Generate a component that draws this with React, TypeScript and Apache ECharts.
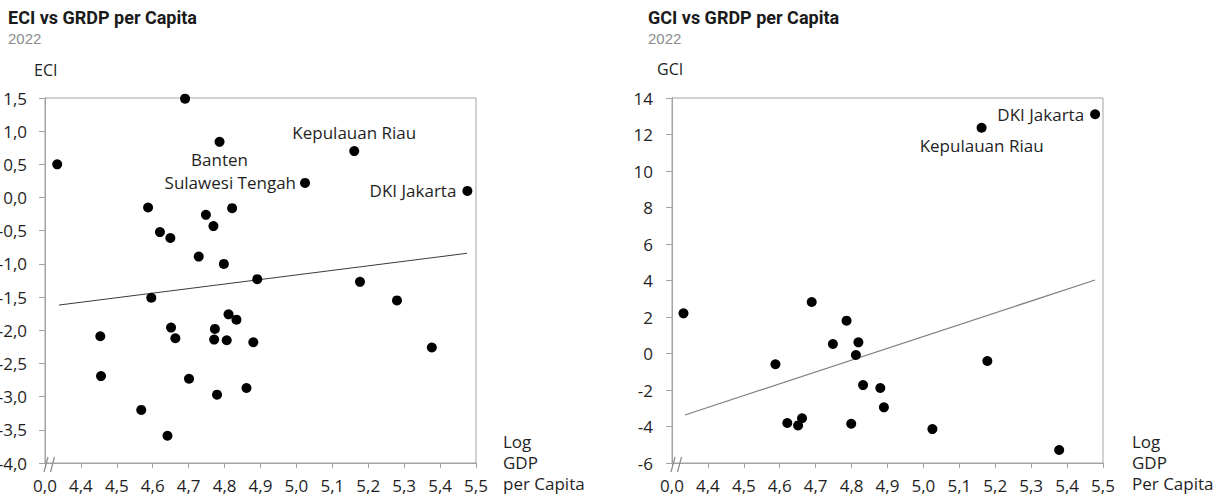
import React, { useEffect, useRef } from "react";
import * as echarts from "echarts";

// ---- Data ----
const xTickMin = 4.3; // shown as "0,0" (broken axis)
const xTickMax = 5.5;

const eciX = [4.334, 4.69, 4.786, 4.587, 4.62, 4.649, 4.748, 4.769, 4.821, 4.728, 4.798, 4.891, 4.596, 4.454, 4.456, 4.651, 4.663, 4.568, 4.641, 4.701, 4.773, 4.771, 4.779, 4.811, 4.833, 4.806, 4.88, 4.861, 5.161, 5.024, 5.476, 5.177, 5.28, 5.377];
const eciY = [0.5, 1.49, 0.84, -0.15, -0.52, -0.61, -0.26, -0.43, -0.16, -0.89, -1.0, -1.23, -1.51, -2.09, -2.69, -1.96, -2.12, -3.2, -3.59, -2.73, -1.98, -2.14, -2.97, -1.76, -1.84, -2.15, -2.18, -2.87, 0.7, 0.22, 0.1, -1.27, -1.55, -2.26];
const eciLabel = ["", "", "Banten", "", "", "", "", "", "", "", "", "", "", "", "", "", "", "", "", "", "", "", "", "", "", "", "", "", "Kepulauan Riau", "Sulawesi Tengah", "DKI Jakarta", "", "", ""];
const eciTrend = [[4.339, -1.62], [5.475, -0.84]];

const gciX = [4.332, 4.689, 4.786, 4.748, 4.819, 4.812, 4.588, 4.832, 4.88, 4.89, 4.621, 4.651, 4.662, 4.799, 5.478, 5.162, 5.178, 5.025, 5.378];
const gciY = [2.2, 2.82, 1.8, 0.52, 0.61, -0.08, -0.59, -1.73, -1.89, -2.95, -3.81, -3.94, -3.55, -3.85, 13.11, 12.37, -0.41, -4.14, -5.29];
const gciLabel = ["", "", "", "", "", "", "", "", "", "", "", "", "", "", "DKI Jakarta", "Kepulauan Riau", "", "", ""];
const gciTrend = [[4.336, -3.37], [5.478, 4.03]];

const eciLabelPos: Record<string, [string, number]> = {
  "Banten": ["bottom", 4],
  "Kepulauan Riau": ["top", 5],
  "Sulawesi Tengah": ["left", 4],
  "DKI Jakarta": ["left", 6],
};
const gciLabelPos: Record<string, [string, number]> = {
  "DKI Jakarta": ["left", 6],
  "Kepulauan Riau": ["bottom", 4],
};

const FONT = "'Open Sans', sans-serif";
const AXIS_GRAY = "#a3a3a3";
const TEXT = "#1f1f1f";

function fmtX(v: number) {
  if (v < xTickMin + 0.05) return "0,0";
  return v.toFixed(1).replace(".", ",");
}

function buildPoints(xs: number[], ys: number[], labels: string[], pos: Record<string, [string, number]>) {
  return xs.map((x, i) => {
    const name = labels[i];
    const item: any = { value: [x, ys[i]], name };
    if (name) {
      const p = pos[name];
      item.label = {
        show: true,
        formatter: name,
        position: p[0],
        distance: p[1],
        fontFamily: FONT,
        fontSize: 17,
        color: TEXT,
        opacity: 1,
      };
    }
    return item;
  });
}

export default function App() {
  const ref = useRef<HTMLDivElement>(null);

  useEffect(() => {
    if (!ref.current) return;
    const chart = echarts.init(ref.current, undefined, { renderer: "svg" });

    const xAxisBase = (gridIndex: number) => ({
      type: "value",
      gridIndex,
      min: xTickMin,
      max: xTickMax,
      interval: 0.1,
      axisLine: { show: true, onZero: false, lineStyle: { color: AXIS_GRAY, width: 1 } },
      axisTick: { show: true, length: 5, lineStyle: { color: AXIS_GRAY } },
      splitLine: { show: false },
      axisLabel: {
        formatter: fmtX,
        fontFamily: FONT,
        fontSize: 17,
        color: TEXT,
        margin: 14,
        showMinLabel: true,
        showMaxLabel: true,
      },
    });

    const yAxisBase = (gridIndex: number, min: number, max: number, interval: number, fmt: (v: number) => string, margin: number) => ({
      type: "value",
      gridIndex,
      min,
      max,
      interval,
      axisLine: { show: true, onZero: false, lineStyle: { color: AXIS_GRAY, width: 1 } },
      axisTick: { show: true, length: 6, lineStyle: { color: AXIS_GRAY } },
      splitLine: { show: false },
      axisLabel: {
        formatter: fmt,
        fontFamily: FONT,
        fontSize: 17,
        color: TEXT,
        margin,
      },
    });

    const breakMark = (x: number) => [
      {
        type: "line",
        shape: { x1: x, y1: 472, x2: x + 4, y2: 457 },
        style: { stroke: "#8a8a8a", lineWidth: 1.2 },
        z: 100,
      },
      {
        type: "line",
        shape: { x1: x + 6.5, y1: 472, x2: x + 10.5, y2: 457 },
        style: { stroke: "#8a8a8a", lineWidth: 1.2 },
        z: 100,
      },
    ];

    const titleStyle = { fontFamily: "'Liberation Sans Narrow', 'Roboto', sans-serif", fontWeight: "bold", fontSize: 18, color: "#1a1a1a", lineHeight: 20 };
    const subStyle = { fontFamily: "'Liberation Sans', sans-serif", fontSize: 15, color: "#8c8c8c", lineHeight: 16 };

    const option: any = {
      animation: false,
      backgroundColor: "#ffffff",
      title: [
        { text: "ECI vs GRDP per Capita", subtext: "2022", left: 8, top: 7, padding: 0, itemGap: 3, textStyle: titleStyle, subtextStyle: subStyle },
        { text: "GCI vs GRDP per Capita", subtext: "2022", left: 648, top: 7, padding: 0, itemGap: 3, textStyle: titleStyle, subtextStyle: subStyle },
      ],
      grid: [
        { left: 45, top: 98, width: 431, height: 365, show: true, borderColor: AXIS_GRAY, borderWidth: 1, containLabel: false, outerBoundsMode: "none" },
        { left: 672, top: 98, width: 431, height: 365, show: true, borderColor: AXIS_GRAY, borderWidth: 1, containLabel: false, outerBoundsMode: "none" },
      ],
      xAxis: [xAxisBase(0), xAxisBase(1)],
      yAxis: [
        yAxisBase(0, -4, 1.5, 0.5, (v: number) => v.toFixed(1).replace(".", ","), 18),
        yAxisBase(1, -6, 14, 2, (v: number) => String(Math.round(v)), 19),
      ],
      graphic: [
        { type: "text", left: 34, top: 62, style: { text: "ECI", fontFamily: FONT, fontSize: 16, fill: TEXT } },
        { type: "text", left: 657, top: 61, style: { text: "GCI", fontFamily: FONT, fontSize: 16, fill: TEXT } },
        { type: "text", left: 503, top: 431, style: { text: "Log\nGDP\nper Capita", fontFamily: FONT, fontSize: 17, lineHeight: 21, fill: TEXT } },
        { type: "text", left: 1132, top: 431, style: { text: "Log\nGDP\nPer Capita", fontFamily: FONT, fontSize: 17, lineHeight: 21, fill: TEXT } },
        ...breakMark(44),
        ...breakMark(671),
      ],
      series: [
        {
          type: "line",
          xAxisIndex: 0,
          yAxisIndex: 0,
          data: eciTrend,
          showSymbol: false,
          symbol: "none",
          silent: true,
          lineStyle: { color: "#3a3a3a", width: 1 },
          z: 1,
        },
        {
          type: "scatter",
          xAxisIndex: 0,
          yAxisIndex: 0,
          data: buildPoints(eciX, eciY, eciLabel, eciLabelPos),
          symbol: "circle",
          symbolSize: 10,
          itemStyle: { color: "#000000", opacity: 1 },
          z: 3,
        },
        {
          type: "line",
          xAxisIndex: 1,
          yAxisIndex: 1,
          data: gciTrend,
          showSymbol: false,
          symbol: "none",
          silent: true,
          lineStyle: { color: "#808080", width: 1.2 },
          z: 1,
        },
        {
          type: "scatter",
          xAxisIndex: 1,
          yAxisIndex: 1,
          data: buildPoints(gciX, gciY, gciLabel, gciLabelPos),
          symbol: "circle",
          symbolSize: 10,
          itemStyle: { color: "#000000", opacity: 1 },
          z: 3,
        },
      ],
    };

    chart.setOption(option);
    return () => chart.dispose();
  }, []);

  return (
    <div
      ref={ref}
      style={{ position: "absolute", left: 0, top: 0, width: 1216, height: 499, background: "#fff" }}
    />
  );
}
